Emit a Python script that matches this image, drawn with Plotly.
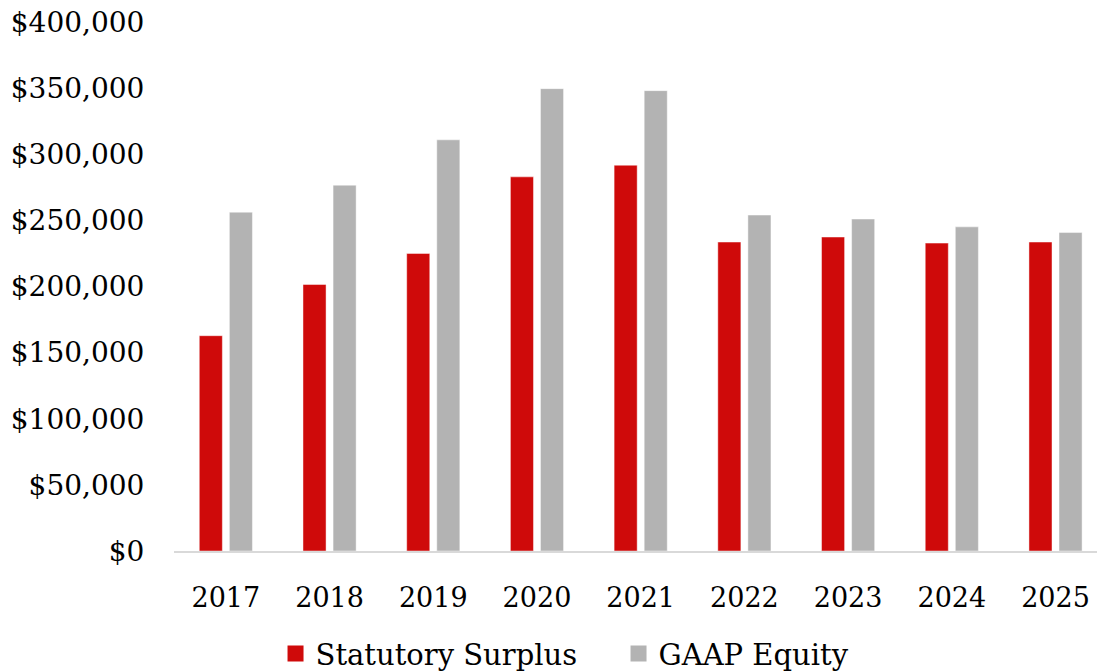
import plotly.graph_objects as go

years = ["2017", "2018", "2019", "2020", "2021", "2022", "2023", "2024", "2025"]
statutory_surplus = [162800, 201500, 225000, 282900, 291700, 233600, 237400, 232800, 233600]
gaap_equity = [256200, 276600, 310900, 349600, 348100, 254000, 251000, 245100, 240800]
y_ticks = [0, 50000, 100000, 150000, 200000, 250000, 300000, 350000, 400000]
y_tick_labels = ["$0", "$50,000", "$100,000", "$150,000", "$200,000",
                 "$250,000", "$300,000", "$350,000", "$400,000"]
series_names = ["Statutory Surplus", "GAAP Equity"]

FONT = "DejaVu Serif"
RED = "#CF0A0A"
GRAY = "#B3B3B3"
edge = dict(color="rgba(255,255,255,0.45)", width=1)

fig = go.Figure()
fig.add_trace(go.Bar(x=years, y=statutory_surplus, name=series_names[0],
                     marker=dict(color=RED, line=edge), showlegend=False))
fig.add_trace(go.Bar(x=years, y=gaap_equity, name=series_names[1],
                     marker=dict(color=GRAY, line=edge), showlegend=False))

# square legend keys
for name, color in zip(series_names, [RED, GRAY]):
    fig.add_trace(go.Scatter(x=[None], y=[None], mode="markers", name=name,
                             marker=dict(symbol="square", size=16, color=color),
                             showlegend=True))

fig.update_layout(
    width=1097, height=672,
    margin=dict(l=174, r=0, t=22, b=121, autoexpand=False),
    paper_bgcolor="white", plot_bgcolor="white",
    barmode="group", bargap=0.42, bargroupgap=0.233,
    font=dict(family=FONT, size=28, color="#000000"),
    legend=dict(orientation="h", x=0.11, xanchor="left", xref="paper",
                y=-0.194, yanchor="middle", yref="paper",
                font=dict(family=FONT, size=29), itemsizing="trace",
                entrywidth=298, entrywidthmode="pixels",
                traceorder="normal", bgcolor="rgba(0,0,0,0)"),
)
fig.update_xaxes(
    type="category", range=[-0.5, 8.4],
    showline=True, linecolor="#D9D9D9", linewidth=2,
    showgrid=False, zeroline=False,
    ticks="outside", ticklen=22, tickcolor="rgba(0,0,0,0)",
    tickfont=dict(family=FONT, size=27),
)
fig.update_yaxes(
    range=[0, 400000], tickvals=y_ticks, ticktext=y_tick_labels,
    showline=False, showgrid=False, zeroline=False,
    ticks="outside", ticklen=23, tickcolor="rgba(0,0,0,0)",
    tickfont=dict(family=FONT, size=28),
)

fig.write_html("out.html")
